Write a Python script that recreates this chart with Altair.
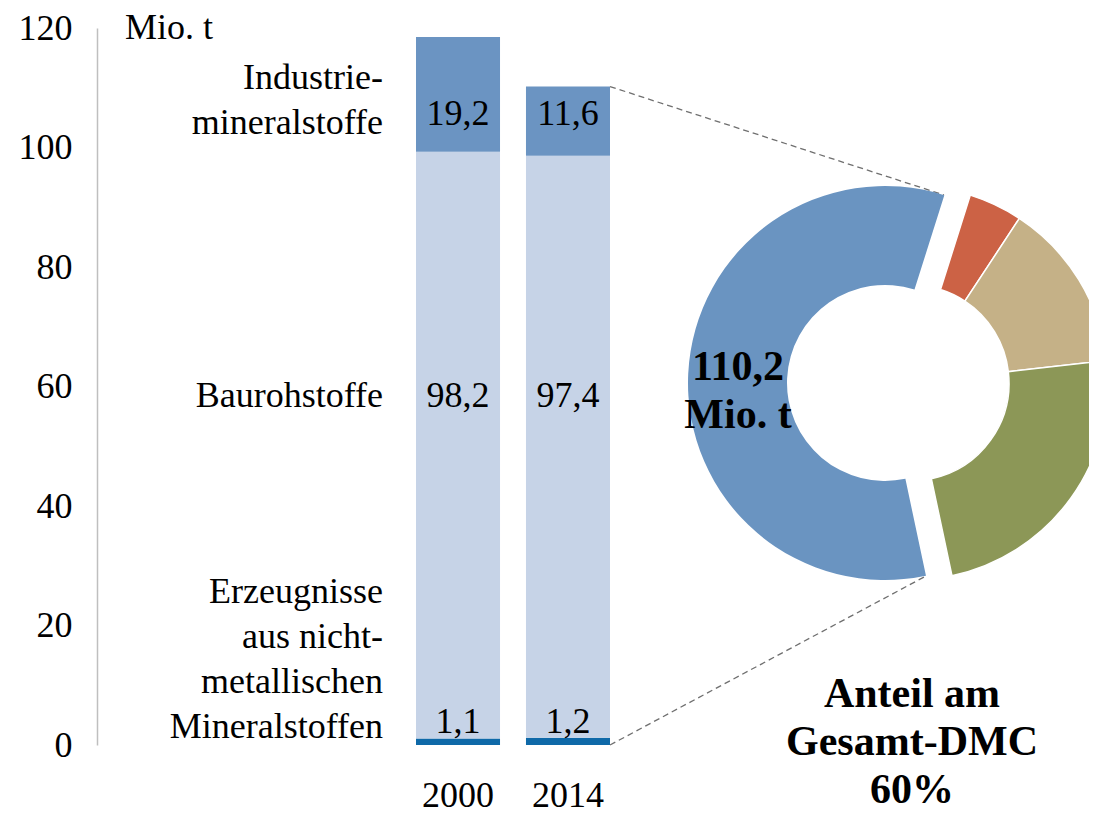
import math
import altair as alt
import pandas as pd

# ---------------- data ----------------
years = ["2000", "2014"]
categories = [
    "Erzeugnisse aus nicht-metallischen Mineralstoffen",
    "Baurohstoffe",
    "Industriemineralstoffe",
]
category_labels = [
    "Erzeugnisse\naus nicht-\nmetallischen\nMineralstoffen",
    "Baurohstoffe",
    "Industrie-\nmineralstoffe",
]
values_2000 = [1.1, 98.2, 19.2]
values_2014 = [1.2, 97.4, 11.6]
y_ticks = [0, 20, 40, 60, 80, 100, 120]

donut_segments = ["Nichtmetallische Mineralstoffe", "Metallerze", "Fossile Energieträger", "Biomasse"]
donut_shares = [58.2, 4.4, 13.9, 23.5]
unit_label = "Mio. t"
share_text = "Anteil am\nGesamt-DMC\n60%"

# ---------------- tables ----------------
rows = []
for yr, vals in zip(years, [values_2000, values_2014]):
    for i, (cat, v) in enumerate(zip(categories, vals)):
        rows.append(dict(year=yr, category=cat, order=i, value=v,
                         label=f"{v:.1f}".replace(".", ",")))
bar_df = pd.DataFrame(rows)
cat_df = pd.DataFrame({"category": categories, "display": category_labels,
                       "order": list(range(len(categories)))})
year_df = pd.DataFrame({"year": years})
donut_df = pd.DataFrame({"segment": donut_segments, "share": donut_shares,
                         "order": list(range(len(donut_segments)))})
total_2014 = round(sum(values_2014), 1)
total_df = pd.DataFrame({"t": [f"{total_2014:.1f}".replace(".", ",") + "\n" + unit_label]})
conn_top_df = pd.DataFrame({"year": ["2014"], "level": [total_2014]})
conn_bot_df = pd.DataFrame({"year": ["2014"], "level": [0.0]})

# ---------------- styles ----------------
FONT = "Liberation Serif"
bar_colors = ["#0f69a8", "#c6d3e7", "#6b94c2"]
donut_colors = ["#6a94c1", "#cc6245", "#c5b187", "#8c9757"]

x_scale = alt.Scale(domain=years, range=[319, 513], paddingInner=0.236, paddingOuter=0)
y_scale = alt.Scale(domain=[0, 120], nice=False, zero=True)
y_axis = alt.Axis(values=y_ticks, grid=False, ticks=False, domainColor="#bfbfbf",
                  domainWidth=1.5, labelFont=FONT, labelFontSize=36, labelColor="black",
                  labelPadding=25, title=None)
start = math.radians(168)
theta_scale = alt.Scale(domain=[0, 100], range=[start, start + 2 * math.pi])

# ---------------- layers ----------------
bars = alt.Chart(bar_df).mark_bar().encode(
    x=alt.X("year:N", scale=x_scale, axis=None),
    y=alt.Y("value:Q", stack="zero", scale=y_scale, axis=y_axis),
    color=alt.Color("category:N", scale=alt.Scale(domain=categories, range=bar_colors), legend=None),
    order=alt.Order("order:Q"),
)

label_y = [705, 379, 97]
bar_texts = [
    alt.Chart(bar_df).transform_filter(alt.datum.order == i).mark_text(
        font=FONT, fontSize=36, baseline="alphabetic", align="center", color="black"
    ).encode(x=alt.X("year:N", scale=x_scale, axis=None), y=alt.value(yp), text="label:N")
    for i, yp in enumerate(label_y)
]

cat_y = [575, 379, 61]
cat_texts = [
    alt.Chart(cat_df).transform_filter(alt.datum.order == i).mark_text(
        font=FONT, fontSize=36, baseline="alphabetic", align="right", color="black",
        lineBreak="\n", lineHeight=45
    ).encode(x=alt.value(286), y=alt.value(yp), text="display:N")
    for i, yp in enumerate(cat_y)
]

year_text = alt.Chart(year_df).mark_text(
    font=FONT, fontSize=36, baseline="alphabetic", align="center", color="black"
).encode(x=alt.X("year:N", scale=x_scale, axis=None), y=alt.value(779), text="year:N")

unit_text = alt.Chart(pd.DataFrame({"u": [unit_label]})).mark_text(
    font=FONT, fontSize=36, baseline="alphabetic", align="left", color="black"
).encode(x=alt.value(28), y=alt.value(11), text="u:N")

arc_base = alt.Chart(donut_df).transform_stack(
    stack="share", groupby=[], as_=["s0", "s1"], sort=[alt.SortField("order", order="ascending")]
)
donut_color = alt.Color("segment:N", scale=alt.Scale(domain=donut_segments, range=donut_colors), legend=None)
arc_main = arc_base.transform_filter(alt.datum.order == 0).mark_arc(
    innerRadius=98, outerRadius=197
).encode(theta=alt.Theta("s0:Q", scale=theta_scale), theta2="s1:Q",
         color=donut_color, x=alt.value(788), y=alt.value(355))
arc_rest = arc_base.transform_filter(alt.datum.order > 0).mark_arc(
    innerRadius=98, outerRadius=197, stroke="white", strokeWidth=1.5
).encode(theta=alt.Theta("s0:Q", scale=theta_scale), theta2="s1:Q",
         color=donut_color, x=alt.value(814), y=alt.value(355))

total_text = alt.Chart(total_df).mark_text(
    font=FONT, fontSize=42, fontWeight="bold", baseline="alphabetic", align="center",
    color="black", lineBreak="\n", lineHeight=48
).encode(x=alt.value(641), y=alt.value(352), text="t:N")

share_lbl = alt.Chart(pd.DataFrame({"s": [share_text]})).mark_text(
    font=FONT, fontSize=42, fontWeight="bold", baseline="alphabetic", align="center",
    color="black", lineBreak="\n", lineHeight=48
).encode(x=alt.value(815), y=alt.value(679), text="s:N")

conn_style = dict(strokeDash=[6, 4], color="#6f6f6f", strokeWidth=1.3)
conn_top = alt.Chart(conn_top_df).mark_rule(**conn_style).encode(
    x=alt.X("year:N", scale=x_scale, axis=None, bandPosition=1),
    y=alt.Y("level:Q", scale=y_scale, axis=y_axis),
    x2=alt.value(847), y2=alt.value(167),
)
conn_bot = alt.Chart(conn_bot_df).mark_rule(**conn_style).encode(
    x=alt.X("year:N", scale=x_scale, axis=None, bandPosition=1),
    y=alt.Y("level:Q", scale=y_scale, axis=y_axis),
    x2=alt.value(829), y2=alt.value(548),
)

chart = alt.layer(
    bars, *bar_texts, *cat_texts, year_text, unit_text,
    conn_top, conn_bot, arc_main, arc_rest, total_text, share_lbl
).resolve_scale(color="independent").properties(
    width=992, height=717,
    autosize=alt.AutoSizeParams(type="none"),
    padding={"left": 89, "top": 20, "right": 0, "bottom": 70},
    background="white",
).configure_view(stroke=None)

chart.save("out.html", embed_options={"renderer": "svg", "actions": False})
